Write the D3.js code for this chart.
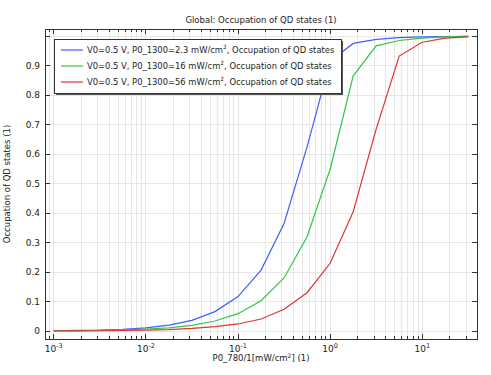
<!DOCTYPE html>
<html>
<head>
<meta charset="utf-8">
<script src="https://cdn.jsdelivr.net/npm/d3@7"></script>
<style>
  body { margin: 0; background: #fff; }
  svg text { font-family: "DejaVu Sans", sans-serif; fill: #222; }
</style>
</head>
<body>
<svg id="chart" width="491" height="375"></svg>
<script>
// P0_780 sweep (mW/cm^2), four points per decade
const power = [0.001, 0.00178, 0.00316, 0.00562, 0.01, 0.0178, 0.0316, 0.0562,
  0.1, 0.178, 0.316, 0.562, 1, 1.78, 3.16, 5.62, 10, 17.8, 31.6];

const occLow = [0.001, 0.002, 0.003, 0.006, 0.011, 0.02, 0.036, 0.066,
  0.117, 0.207, 0.365, 0.625, 0.915, 0.976, 0.99, 0.996, 0.998, 0.999, 1.0];
const occMid = [0.001, 0.001, 0.002, 0.004, 0.007, 0.011, 0.019, 0.034,
  0.059, 0.103, 0.18, 0.32, 0.549, 0.866, 0.968, 0.986, 0.994, 0.998, 1.0];
const occHigh = [0.0003, 0.0005, 0.001, 0.002, 0.003, 0.005, 0.009, 0.015,
  0.024, 0.041, 0.074, 0.13, 0.23, 0.405, 0.685, 0.933, 0.98, 0.994, 0.998];

const seriesNames = ["2.3", "16", "56"];
const seriesColors = ["#3f5fff", "#33c546", "#e43232"];
const yTicks = [0, 0.1, 0.2, 0.3, 0.4, 0.5, 0.6, 0.7, 0.8, 0.9];
const xDecades = [-3, -2, -1, 0, 1];

const series = [occLow, occMid, occHigh].map((vals, i) => ({
  name: seriesNames[i],
  color: seriesColors[i],
  points: vals.map((v, j) => ({ x: power[j], y: v })),
}));

const svg = d3.select("#chart");
const margin = { top: 29, right: 14, bottom: 36, left: 45 };
const width = 491, height = 375;
const x0 = margin.left, x1 = width - margin.right;
const y0 = height - margin.bottom, y1 = margin.top;

const x = d3.scaleLog().domain([8.03e-4, 39.3]).range([x0, x1]);
const y = d3.scaleLinear().domain([-0.027, 1.025]).range([y0, y1]);

// minor + major positions on x (1..9 per decade)
const xMinor = [];
for (let e = -4; e <= 1; e++) {
  for (let m = 1; m <= 9; m++) {
    const v = m * Math.pow(10, e);
    if (v >= x.domain()[0] && v <= x.domain()[1]) xMinor.push(v);
  }
}

// grid
const grid = svg.append("g");
grid.selectAll("line.gx")
  .data(xMinor)
  .join("line")
  .attr("x1", (d) => x(d)).attr("x2", (d) => x(d))
  .attr("y1", y1).attr("y2", y0)
  .attr("stroke", "#e6e6e6").attr("stroke-width", 1)
  .attr("shape-rendering", "crispEdges");
grid.selectAll("line.gy")
  .data(yTicks.concat([1]))
  .join("line")
  .attr("x1", x0).attr("x2", x1)
  .attr("y1", (d) => y(d)).attr("y2", (d) => y(d))
  .attr("stroke", "#e6e6e6").attr("stroke-width", 1)
  .attr("shape-rendering", "crispEdges");

// curves
const line = d3.line().x((d) => x(d.x)).y((d) => y(d.y));
svg.append("g")
  .selectAll("path")
  .data(series)
  .join("path")
  .attr("d", (d) => line(d.points))
  .attr("fill", "none")
  .attr("stroke", (d) => d.color)
  .attr("stroke-width", 1.2);

// ticks (inward, all four sides)
const ticks = svg.append("g").attr("stroke", "#333").attr("stroke-width", 1)
  .attr("shape-rendering", "crispEdges");
const isMajor = (v) => Math.abs(Math.log10(v) - Math.round(Math.log10(v))) < 1e-6;
xMinor.forEach((v) => {
  const len = isMajor(v) ? 5 : 3;
  ticks.append("line").attr("x1", x(v)).attr("x2", x(v)).attr("y1", y0).attr("y2", y0 - len);
  ticks.append("line").attr("x1", x(v)).attr("x2", x(v)).attr("y1", y1).attr("y2", y1 + len);
});
yTicks.concat([1]).forEach((v) => {
  ticks.append("line").attr("x1", x0).attr("x2", x0 + 5).attr("y1", y(v)).attr("y2", y(v));
  ticks.append("line").attr("x1", x1).attr("x2", x1 - 5).attr("y1", y(v)).attr("y2", y(v));
});

// frame
svg.append("rect")
  .attr("x", x0).attr("y", y1)
  .attr("width", x1 - x0).attr("height", y0 - y1)
  .attr("fill", "none").attr("stroke", "#333").attr("stroke-width", 1)
  .attr("shape-rendering", "crispEdges");

// y tick labels
svg.append("g")
  .selectAll("text")
  .data(yTicks)
  .join("text")
  .attr("x", x0 - 5)
  .attr("y", (d) => y(d))
  .attr("dy", "0.35em")
  .attr("text-anchor", "end")
  .style("font-size", "9px")
  .text((d) => (d === 0 ? "0" : d3.format(".1f")(d)));

// x tick labels 10^n
const xl = svg.append("g")
  .selectAll("text")
  .data(xDecades)
  .join("text")
  .attr("x", (d) => x(Math.pow(10, d)))
  .attr("y", y0 + 13)
  .attr("text-anchor", "middle")
  .style("font-size", "9px");
xl.append("tspan").text("10");
xl.append("tspan")
  .attr("dy", "-4")
  .style("font-size", "6.5px")
  .text((d) => String(d));

// title and axis labels
svg.append("text")
  .attr("x", (x0 + x1) / 2).attr("y", 23)
  .attr("text-anchor", "middle")
  .style("font-size", "8.5px")
  .text("Global: Occupation of QD states (1)");

const xt = svg.append("text")
  .attr("x", (x0 + x1) / 2).attr("y", 361)
  .attr("text-anchor", "middle")
  .style("font-size", "8.5px");
xt.append("tspan").text("P0_780/1[mW/cm");
xt.append("tspan").attr("dy", "-3.5").style("font-size", "6px").text("2");
xt.append("tspan").attr("dy", "3.5").text("] (1)");

svg.append("text")
  .attr("transform", `translate(10,${(y0 + y1) / 2}) rotate(-90)`)
  .attr("text-anchor", "middle")
  .style("font-size", "8.5px")
  .text("Occupation of QD states (1)");

// legend
const lg = svg.append("g").attr("transform", "translate(54,39)");
const lw = 287, lh = 54;
lg.append("rect").attr("x", 2).attr("y", 2).attr("width", lw).attr("height", lh)
  .attr("fill", "#555");
lg.append("rect").attr("x", 0).attr("y", 0).attr("width", lw).attr("height", lh)
  .attr("fill", "#fff").attr("stroke", "#333").attr("stroke-width", 1)
  .attr("shape-rendering", "crispEdges");
const rows = lg.selectAll("g.row")
  .data(series)
  .join("g")
  .attr("transform", (d, i) => `translate(0,${11 + i * 16})`);
rows.append("line")
  .attr("x1", 7).attr("x2", 29)
  .attr("stroke", (d) => d.color).attr("stroke-width", 1.2);
const rt = rows.append("text")
  .attr("x", 33).attr("dy", "0.35em")
  .style("font-size", "8.4px");
rt.append("tspan").text((d) => `V0=0.5 V, P0_1300=${d.name} mW/cm`);
rt.append("tspan").attr("dy", "-4").style("font-size", "5.8px").text("2");
rt.append("tspan").attr("dy", "4").text(", Occupation of QD states");
</script>
</body>
</html>
